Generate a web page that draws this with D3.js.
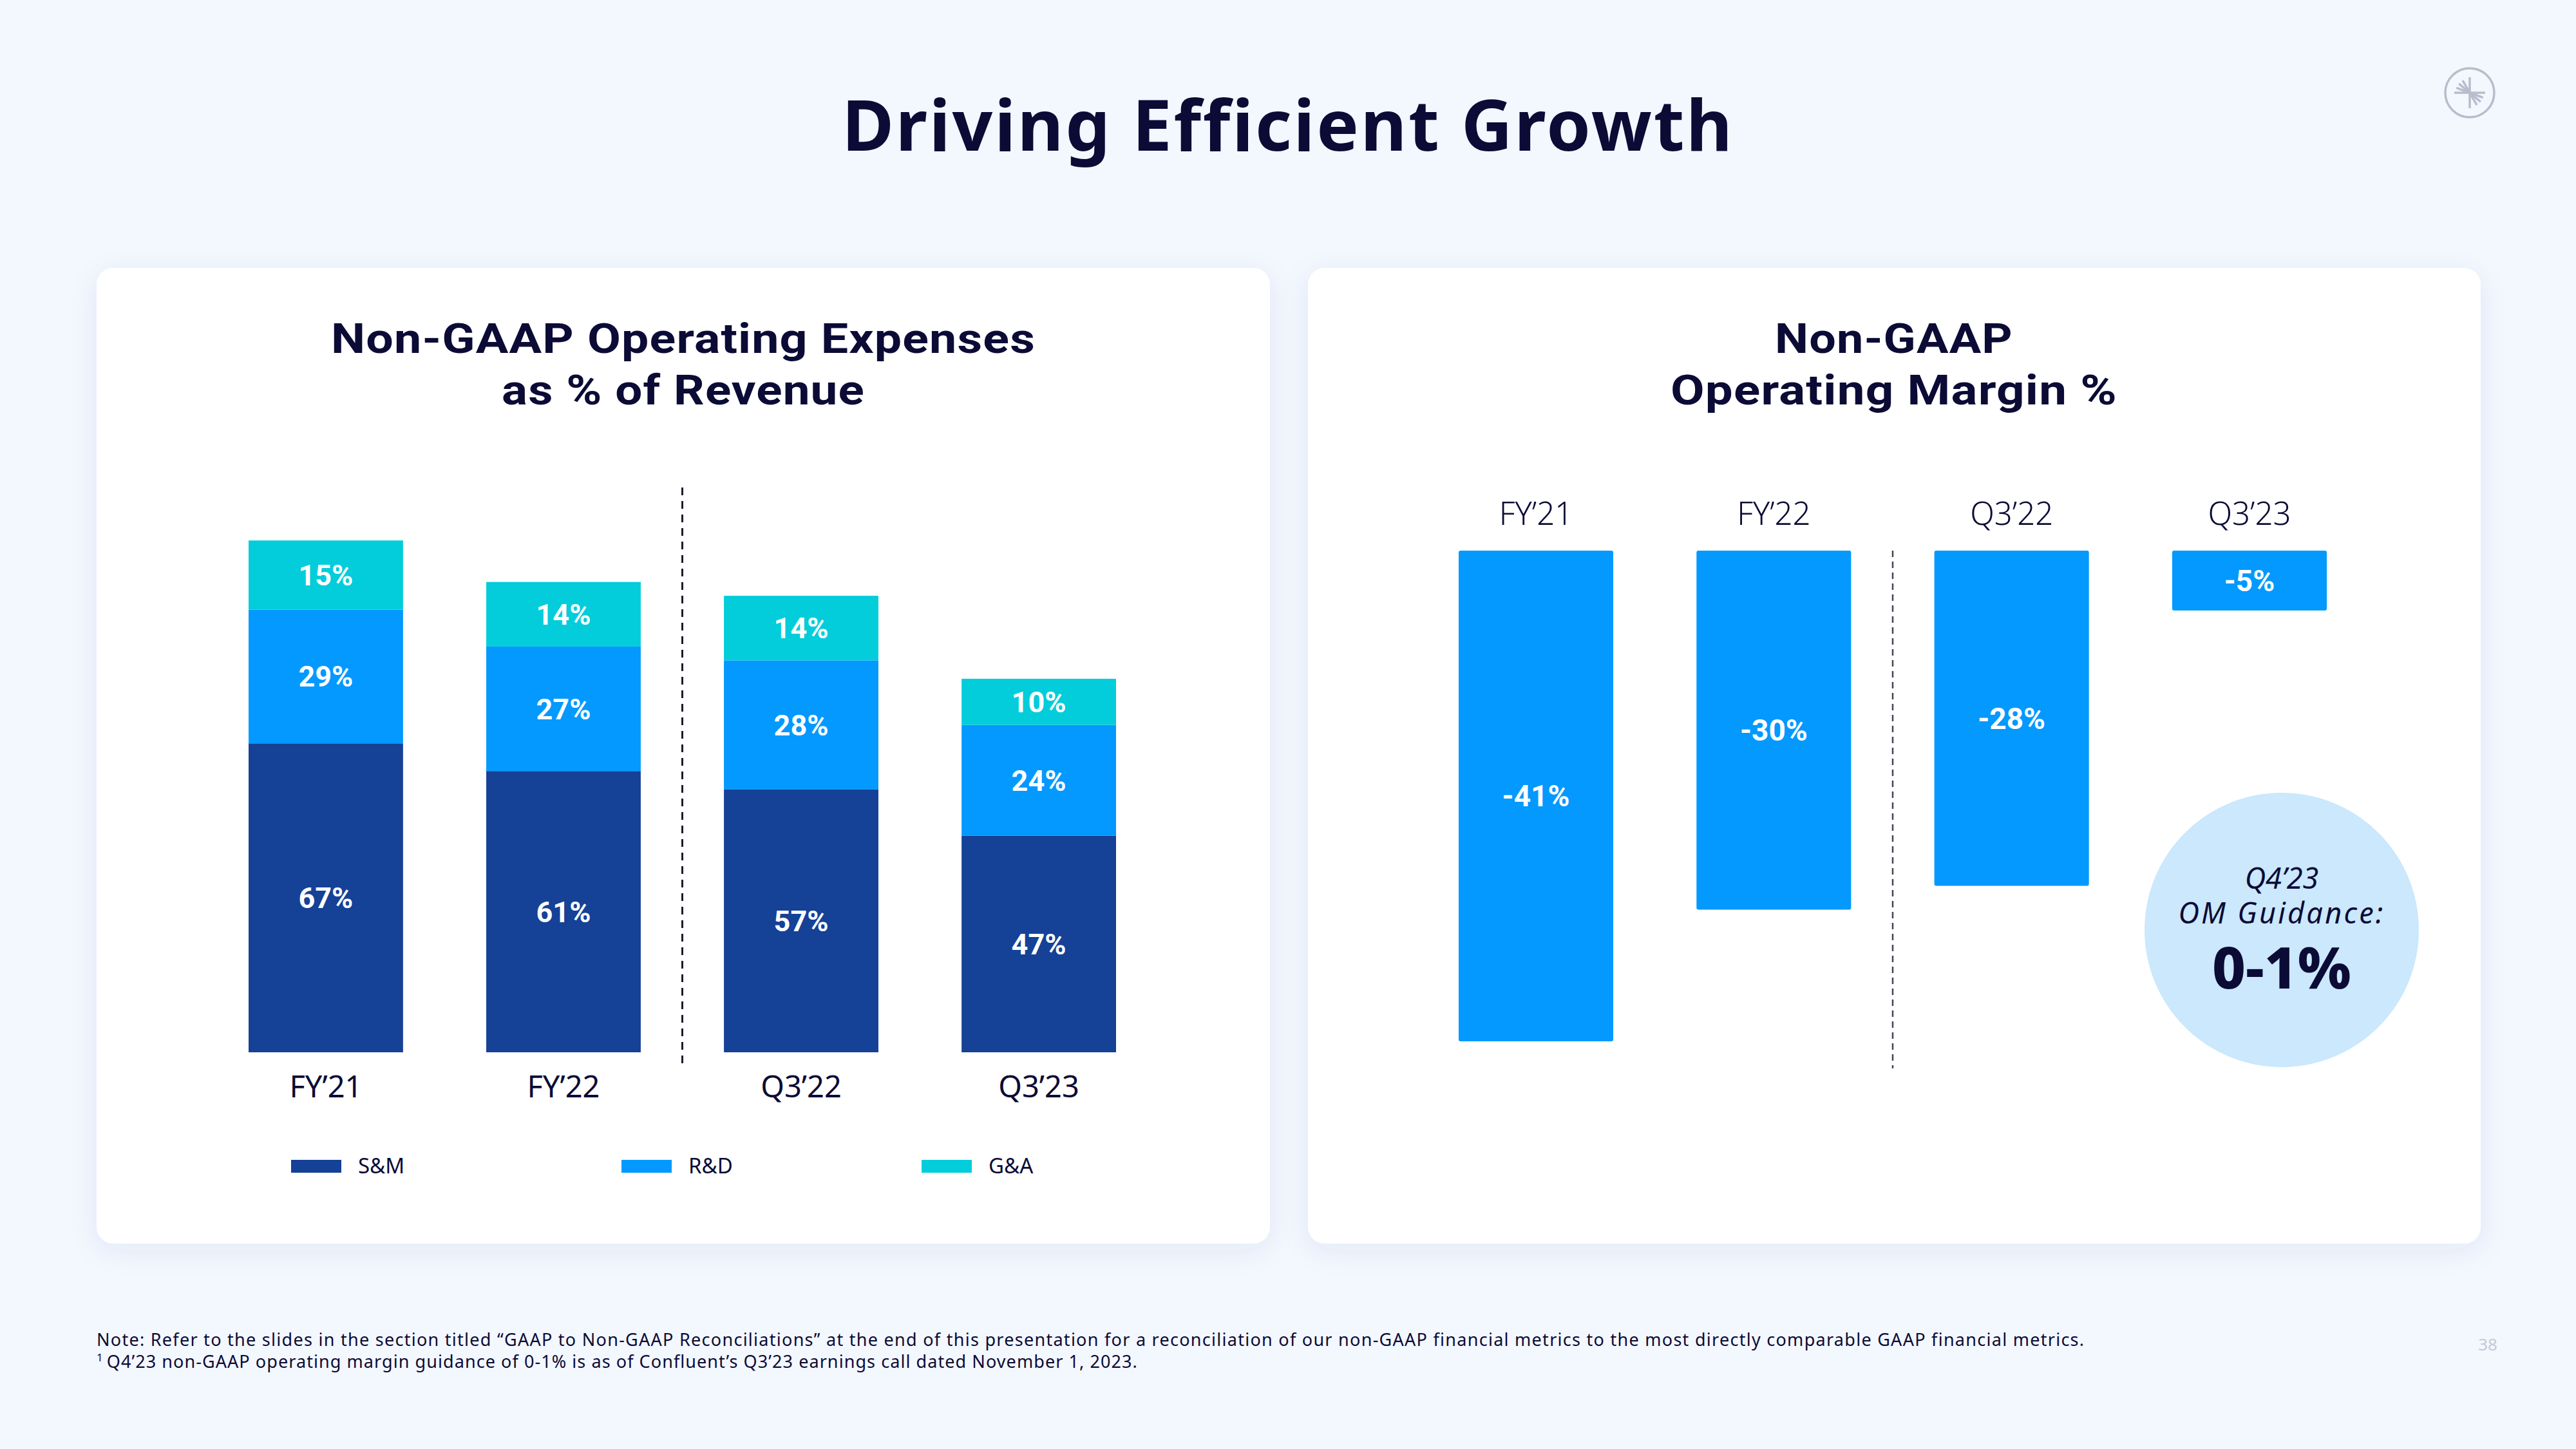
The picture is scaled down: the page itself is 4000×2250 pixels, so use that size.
<!DOCTYPE html>
<html>
<head>
<meta charset="utf-8">
<script src="https://cdn.jsdelivr.net/npm/d3@7"></script>
<style>
  html, body { margin: 0; padding: 0; background: #f3f7fe; }
  svg { display: block; }
</style>
</head>
<body>
<script>
// ---------------- DATA ----------------
const categories = ["FY’21", "FY’22", "Q3’22", "Q3’23"];
const smValues = [67, 61, 57, 47];
const rdValues = [29, 27, 28, 24];
const gaValues = [15, 14, 14, 10];
const seriesNames = ["S&M", "R&D", "G&A"];
const marginValues = [-41, -30, -28, -5];
const guidanceLines = ["Q4’23", "OM Guidance:", "0-1%"];
const pageTitle = "Driving Efficient Growth";
const leftTitle = ["Non-GAAP Operating Expenses", "as % of Revenue"];
const rightTitle = ["Non-GAAP", "Operating Margin %"];
const footnotes = [
  "Note: Refer to the slides in the section titled “GAAP to Non-GAAP Reconciliations” at the end of this presentation for a reconciliation of our non-GAAP financial metrics to the most directly comparable GAAP financial metrics.",
  "Q4’23 non-GAAP operating margin guidance of 0-1% is as of Confluent’s Q3’23 earnings call dated November 1, 2023."
];
const pageNumber = "38";

// ---------------- STYLE ----------------
const W = 4000, H = 2250;
const navy = "#0b0b36";
const colors = { "S&M": "#154196", "R&D": "#0399fe", "G&A": "#03cdda" };
const titleFont = "'Noto Sans', 'Open Sans', sans-serif";
const subTitleFont = "Roboto, sans-serif";
const labelFont = "Roboto, sans-serif";

const svg = d3.select("body").append("svg").attr("width", W).attr("height", H);
svg.append("rect").attr("width", W).attr("height", H).attr("fill", "#f3f7fe");

const defs = svg.append("defs");
const f = defs.append("filter").attr("id", "shadow").attr("x", "-10%").attr("y", "-10%").attr("width", "120%").attr("height", "120%");
f.append("feDropShadow").attr("dx", 0).attr("dy", 10).attr("stdDeviation", 22)
  .attr("flood-color", "#2a3a80").attr("flood-opacity", 0.07);

// adjust letter-spacing so that a text spans a target width
function fitWidth(sel, target) {
  const node = sel.node();
  const len = node.getComputedTextLength();
  const n = node.textContent.length;
  if (n > 1) sel.attr("letter-spacing", ((target - len) / (n - 1)).toFixed(3));
}

// Title
const t = svg.append("text").attr("x", 2000).attr("y", 234).attr("text-anchor", "middle")
  .attr("font-family", titleFont).attr("font-weight", 700).attr("font-size", 110)
  .attr("fill", navy).text(pageTitle);
fitWidth(t, 1382);

// Logo
const logo = svg.append("g").attr("transform", "translate(3835,144)")
  .attr("stroke", "#b9bccb").attr("fill", "none").attr("stroke-width", 3.5);
logo.append("circle").attr("r", 38);
logo.append("line").attr("x1", 0).attr("y1", -24).attr("x2", 0).attr("y2", 24);
logo.append("line").attr("x1", -24).attr("y1", 0).attr("x2", 24).attr("y2", 0);
[20, 40, 60].forEach(a => {
  const r = a * Math.PI / 180;
  logo.append("line").attr("x1", 0).attr("y1", 0)
    .attr("x2", -22 * Math.cos(r)).attr("y2", -22 * Math.sin(r));
  logo.append("line").attr("x1", 0).attr("y1", 0)
    .attr("x2", 22 * Math.cos(r)).attr("y2", 22 * Math.sin(r));
});

// Panels
const panels = [{ x: 150, y: 416, w: 1822, h: 1515 }, { x: 2031, y: 416, w: 1821, h: 1515 }];
panels.forEach(p => {
  svg.append("rect").attr("x", p.x).attr("y", p.y).attr("width", p.w).attr("height", p.h)
    .attr("rx", 26).attr("fill", "#ffffff").attr("filter", "url(#shadow)");
});

// two-line panel titles: glyphs widened horizontally to the reference widths
function panelTitle(lines, cx, widths) {
  lines.forEach((l, i) => {
    const g = svg.append("g");
    const tt = g.append("text").attr("x", 0).attr("y", 0).attr("text-anchor", "middle")
      .attr("font-family", subTitleFont).attr("font-weight", 700).attr("font-size", 65)
      .attr("letter-spacing", 1).attr("fill", navy).text(l);
    const len = tt.node().getComputedTextLength();
    g.attr("transform", `translate(${cx},${548 + i * 80}) scale(${(widths[i] / len).toFixed(4)},1)`);
  });
}
panelTitle(leftTitle, 1061, [1094, 564]);
panelTitle(rightTitle, 2941, [370, 694]);

// ---------------- LEFT CHART ----------------
const xL = d3.scaleBand().domain(categories).range([386, 1733]).paddingInner(0.35).paddingOuter(0);
const yL = d3.scaleLinear().domain([0, 100]).range([1634, 918]);

const rows = categories.map((c, i) => ({ cat: c, "S&M": smValues[i], "R&D": rdValues[i], "G&A": gaValues[i] }));
const stacked = d3.stack().keys(seriesNames)(rows);

const gL = svg.append("g");
stacked.forEach(layer => {
  const key = layer.key;
  const lg = gL.append("g");
  lg.selectAll("rect").data(layer).join("rect")
    .attr("x", d => xL(d.data.cat)).attr("width", xL.bandwidth())
    .attr("y", d => yL(d[1])).attr("height", d => yL(d[0]) - yL(d[1]))
    .attr("fill", colors[key]);
  lg.selectAll("text").data(layer).join("text")
    .attr("x", d => xL(d.data.cat) + xL.bandwidth() / 2)
    .attr("y", d => (yL(d[0]) + yL(d[1])) / 2)
    .attr("dy", "0.355em").attr("text-anchor", "middle")
    .attr("font-family", labelFont).attr("font-weight", 700).attr("font-size", 45)
    .attr("fill", "#ffffff").text(d => (d[1] - d[0]) + "%");
});

// bottom category labels
gL.append("g").selectAll("text").data(categories).join("text")
  .attr("x", d => xL(d) + xL.bandwidth() / 2).attr("y", 1704)
  .attr("text-anchor", "middle").attr("font-family", titleFont).attr("font-weight", 400)
  .attr("font-size", 47).attr("fill", navy).text(d => d);

// dashed divider
const divL = xL(categories[1]) + xL.bandwidth() + (xL.step() - xL.bandwidth()) / 2;
gL.append("line").attr("x1", divL).attr("x2", divL).attr("y1", 757).attr("y2", 1657)
  .attr("stroke", "#1a1a2e").attr("stroke-width", 3).attr("stroke-dasharray", "12,9");

// legend
const legendX = [452, 965, 1431];
seriesNames.forEach((s, i) => {
  gL.append("rect").attr("x", legendX[i]).attr("y", 1801).attr("width", 78).attr("height", 20)
    .attr("fill", colors[s]);
  gL.append("text").attr("x", legendX[i] + 104).attr("y", 1822)
    .attr("font-family", titleFont).attr("font-weight", 400).attr("font-size", 33)
    .attr("fill", navy).text(s);
});

// ---------------- RIGHT CHART ----------------
const xR = d3.scaleBand().domain(categories).range([2265, 3613]).paddingInner(0.35).paddingOuter(0);
const yR = d3.scaleLinear().domain([0, -41]).range([855, 1617]);
const gR = svg.append("g");
const mrows = categories.map((c, i) => ({ cat: c, v: marginValues[i] }));

gR.selectAll("rect.m").data(mrows).join("rect").attr("class", "m")
  .attr("x", d => xR(d.cat)).attr("width", xR.bandwidth())
  .attr("y", yR(0)).attr("height", d => yR(d.v) - yR(0))
  .attr("rx", 3).attr("fill", colors["R&D"]);
gR.selectAll("text.v").data(mrows).join("text").attr("class", "v")
  .attr("x", d => xR(d.cat) + xR.bandwidth() / 2)
  .attr("y", d => (yR(0) + yR(d.v)) / 2).attr("dy", "0.355em")
  .attr("text-anchor", "middle").attr("font-family", labelFont).attr("font-weight", 700)
  .attr("font-size", 46).attr("fill", "#ffffff").text(d => d.v + "%");

gR.selectAll("text.c").data(categories).join("text").attr("class", "c")
  .attr("x", d => xR(d) + xR.bandwidth() / 2).attr("y", 815)
  .attr("text-anchor", "middle").attr("font-family", titleFont).attr("font-weight", 300)
  .attr("font-size", 49).attr("fill", navy).text(d => d);

const divR = xR(categories[1]) + xR.bandwidth() + (xR.step() - xR.bandwidth()) / 2;
gR.append("line").attr("x1", divR).attr("x2", divR).attr("y1", 855).attr("y2", 1659)
  .attr("stroke", "#444455").attr("stroke-width", 2.5).attr("stroke-dasharray", "10,7");

// guidance bubble
const bubble = gR.append("g").attr("transform", "translate(3543,1444)");
bubble.append("circle").attr("r", 213).attr("fill", "#cbe8fc");
bubble.append("text").attr("y", -64).attr("text-anchor", "middle")
  .attr("font-family", titleFont).attr("font-style", "italic").attr("font-weight", 400)
  .attr("font-size", 45).attr("fill", navy).text(guidanceLines[0]);
const og = bubble.append("text").attr("y", -10).attr("text-anchor", "middle")
  .attr("font-family", titleFont).attr("font-style", "italic").attr("font-weight", 400)
  .attr("font-size", 45).attr("fill", navy).text(guidanceLines[1]);
fitWidth(og, 318);
bubble.append("text").attr("y", 91).attr("text-anchor", "middle")
  .attr("font-family", titleFont).attr("font-weight", 800)
  .attr("font-size", 90).attr("fill", navy).text(guidanceLines[2]);

// ---------------- FOOTER ----------------
const fn1 = svg.append("text").attr("x", 150).attr("y", 2090)
  .attr("font-family", titleFont).attr("font-size", 27).attr("fill", navy).text(footnotes[0]);
fitWidth(fn1, 3086);
const fn2 = svg.append("text").attr("x", 150).attr("y", 2124)
  .attr("font-family", titleFont).attr("font-size", 27).attr("fill", navy);
fn2.append("tspan").attr("font-size", 17).attr("dy", -10).text("1");
const fn2b = fn2.append("tspan").attr("dy", 10).attr("dx", 6).text(footnotes[1]);
{
  const len = fn2b.node().getComputedTextLength();
  const n = footnotes[1].length;
  fn2b.attr("letter-spacing", ((1600 - len) / (n - 1)).toFixed(3));
}
svg.append("text").attr("x", 3878).attr("y", 2097).attr("text-anchor", "end")
  .attr("font-family", titleFont).attr("font-size", 26).attr("fill", "#c5c9d6").text(pageNumber);
</script>
</body>
</html>
